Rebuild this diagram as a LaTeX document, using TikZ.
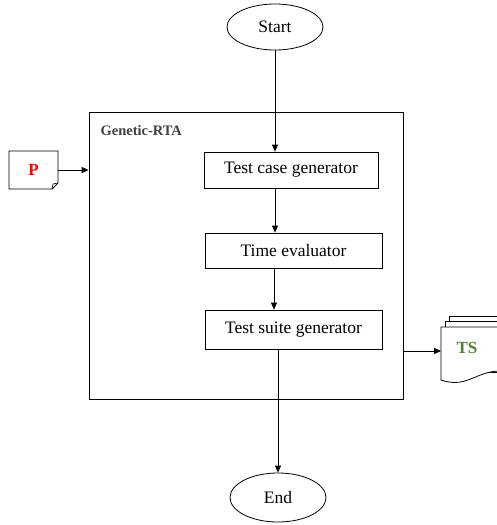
\documentclass[tikz,border=0pt]{standalone}
\usepackage{fontspec}
\setmainfont{Liberation Serif}
\usetikzlibrary{shapes.geometric,arrows.meta,calc}
\definecolor{tsgreen}{HTML}{538135}
\definecolor{labgray}{HTML}{404040}
\begin{document}
\begin{tikzpicture}[x=1pt,y=-1pt,
  every node/.style={font=\fontsize{17.5}{20}\selectfont},
  term/.style={draw,ellipse,line width=0.8pt,minimum width=96pt,minimum height=46pt,inner sep=0pt},
  proc/.style={draw,rectangle,line width=0.8pt,inner sep=0pt},
  arr/.style={line width=0.8pt,-{Triangle[length=7pt,width=6pt]}},
  doc/.style={draw,line width=0.8pt,fill=white}]
\useasboundingbox (0,0) rectangle (497,525);
% outer box
\node[proc,minimum width=314pt,minimum height=287pt] (ga) at (246,255.5) {};
\node[anchor=west,font=\fontsize{14.5}{17}\selectfont\bfseries,text=labgray] (galab) at (97,131) {Genetic-RTA};
% flow nodes
\node[term] (start) at (275,27) {Start};
\node[proc,minimum width=174pt,minimum height=36pt] (tcg) at (291,170) {Test case generator};
\node[proc,minimum width=177pt,minimum height=35pt] (te) at (293.5,250.5) {Time evaluator};
\node[proc,minimum width=177pt,minimum height=39pt] (tsg) at (293.5,329.5) {Test suite generator};
\node[term,minimum height=49pt] (end) at (278,497.5) {End};
% P document
\draw[doc] (9,151) -- (58,151) -- (58,183) -- (52,189) -- (9,189) -- cycle;
\draw[line width=0.6pt] (52,189) -- (53,184) -- (58,183);
\node[minimum width=49pt,minimum height=38pt,inner sep=0pt,text=red,font=\fontsize{17}{20}\selectfont\bfseries] (P) at (33.5,170) {P};
% TS multi-document
\draw[doc] (449,316) -- (510,316) -- (510,368) -- (449,368) -- cycle;
\draw[doc] (445,321) -- (510,321) -- (510,372) -- (445,372) -- cycle;
\draw[doc] (441,327) -- (510,327) -- (510,372) .. controls (478,366) and (470,390) .. (441,380) -- cycle;
\node[text=tsgreen,font=\fontsize{17}{20}\selectfont\bfseries] (ts) at (467,348) {TS};
\coordinate (tsin) at (441,351);
% connectors
\draw[arr] (start.south) -- (start.south |- tcg.north);
\draw[arr] (tcg.south -| start.south) -- (te.north -| start.south);
\draw[arr] ([xshift=-1pt]te.south -| start.south) -- ([xshift=-1pt]tsg.north -| start.south);
\draw[line width=0.8pt] (tsg.south -| end.north) -- (ga.south -| end.north);
\draw[arr] (ga.south -| end.north) -- (end.north);
\draw[arr] (P.east) -- (P.east -| ga.west);
\draw[arr] (tsin -| ga.east) -- (tsin);
\end{tikzpicture}
\end{document}
